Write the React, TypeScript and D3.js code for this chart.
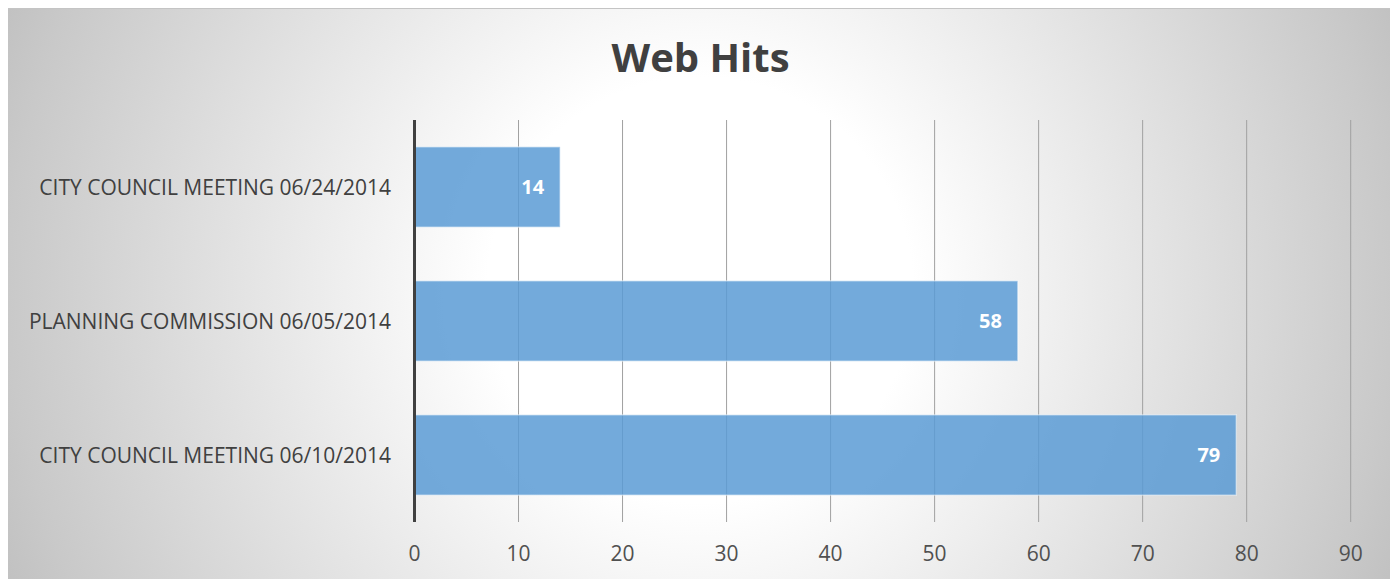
import React from "react";
import * as d3 from "d3";

const categories = [
  "CITY COUNCIL MEETING 06/24/2014",
  "PLANNING COMMISSION 06/05/2014",
  "CITY COUNCIL MEETING 06/10/2014",
];
const hits = [14, 58, 79];
const ticks = [0, 10, 20, 30, 40, 50, 60, 70, 80, 90];
const title = "Web Hits";

const W = 1385;
const H = 571;
const FONT = "'Open Sans', 'Noto Sans', sans-serif";

export default function App() {
  const x = d3.scaleLinear().domain([0, 90]).range([406.5, 1342.7]);
  const y = d3
    .scaleBand<string>()
    .domain(categories)
    .range([112, 514])
    .paddingInner(0.4)
    .paddingOuter(0.2);
  const [y0, y1] = y.range();

  return (
    <svg width={W} height={H} style={{ display: "block" }}>
      <defs>
        <radialGradient id="bg" gradientUnits="userSpaceOnUse" cx={692} cy={282} r={760}>
          <stop offset="0" stopColor="#ffffff" />
          <stop offset="0.28" stopColor="#ffffff" />
          <stop offset="0.91" stopColor="#c9c9c9" />
          <stop offset="1" stopColor="#c0c0c0" />
        </radialGradient>
      </defs>
      <rect x={0} y={0} width={W} height={H} fill="url(#bg)" />
      <line x1={0} x2={W} y1={0.5} y2={0.5} stroke="#c4c4c4" />
      <text
        x={W / 2}
        y={64}
        textAnchor="middle"
        fontFamily={FONT}
        fontWeight="bold"
        fontSize={40}
        fill="#404040"
      >
        {title}
      </text>
      {ticks.map((t) => (
        <g key={t}>
          {t > 0 && (
            <line
              x1={x(t)}
              x2={x(t)}
              y1={y0}
              y2={y1}
              stroke="#a0a0a0"
              strokeWidth={1}
            />
          )}
          <text
            x={x(t)}
            y={553}
            textAnchor="middle"
            fontFamily={FONT}
            fontSize={21}
            fill="#505050"
          >
            {t}
          </text>
        </g>
      ))}
      {categories.map((c, i) => {
        const by = y(c)!;
        const bh = y.bandwidth();
        return (
          <g key={c}>
            <rect
              x={x(0)}
              y={by}
              width={x(hits[i]) - x(0)}
              height={bh}
              fill="#5b9bd5"
              fillOpacity={0.85}
              stroke="#ffffff"
              strokeOpacity={0.45}
              strokeWidth={1.5}
            />
            <text
              x={x(hits[i]) - 16}
              y={by + bh / 2}
              dy="0.36em"
              textAnchor="end"
              fontFamily={FONT}
              fontWeight="bold"
              fontSize={20}
              fill="#ffffff"
            >
              {hits[i]}
            </text>
            <text
              x={383}
              y={by + bh / 2}
              dy="0.36em"
              textAnchor="end"
              fontFamily={FONT}
              fontSize={21}
              fill="#404040"
            >
              {c}
            </text>
          </g>
        );
      })}
      <line
        x1={x(0)}
        x2={x(0)}
        y1={y0}
        y2={y1}
        stroke="#404040"
        strokeWidth={3}
      />
    </svg>
  );
}
